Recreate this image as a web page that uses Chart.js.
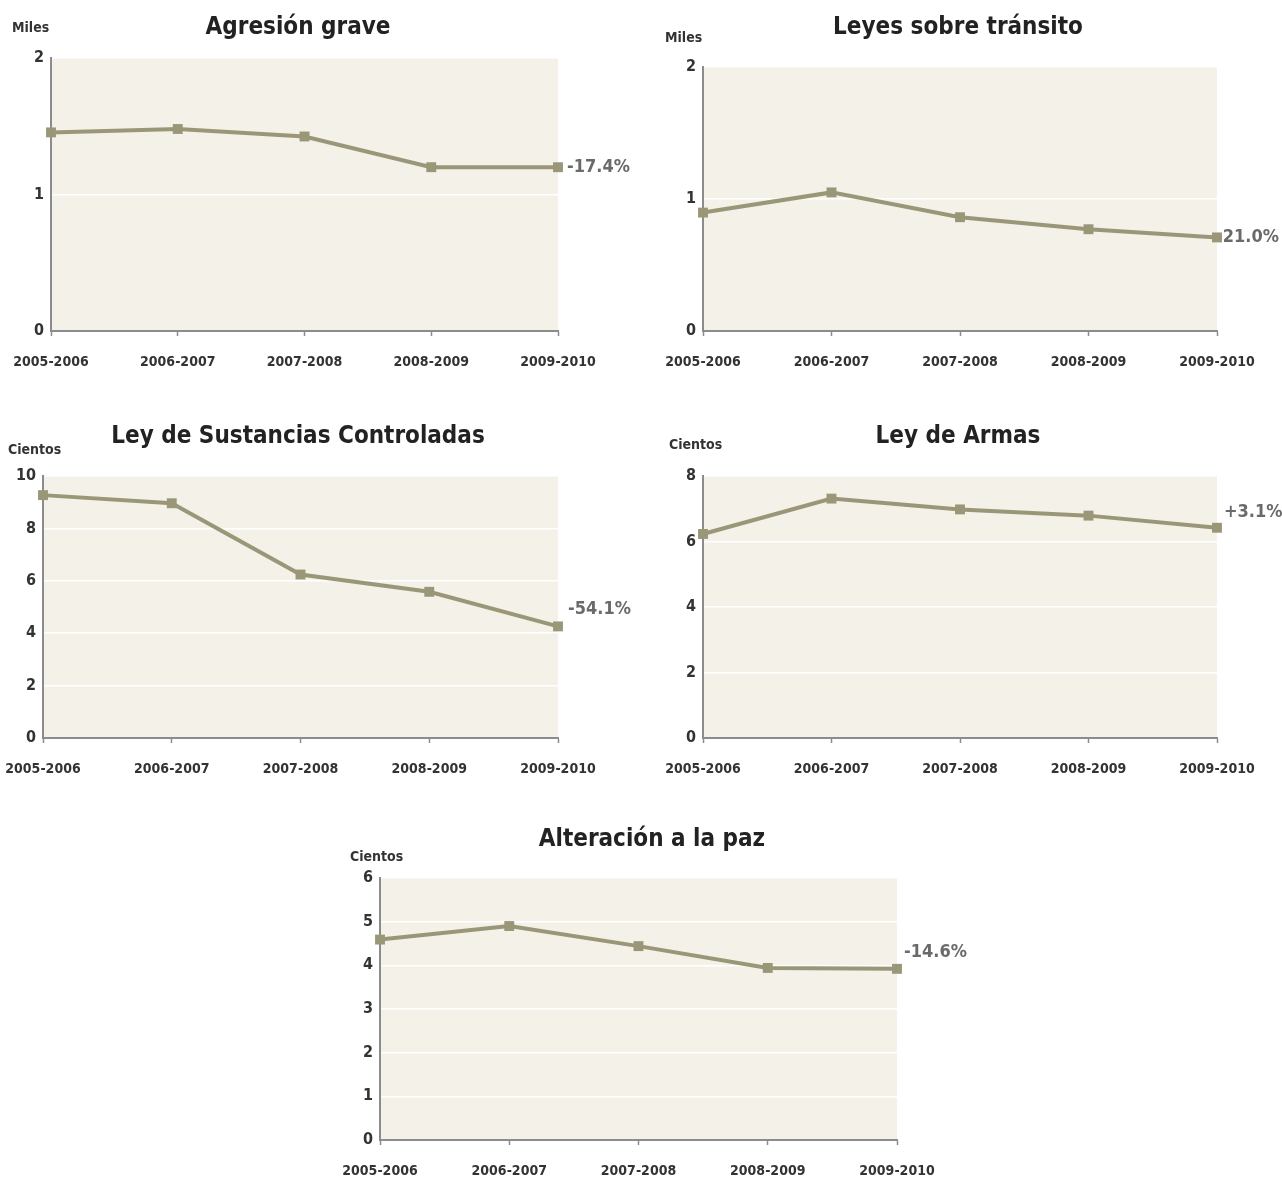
<!DOCTYPE html>
<html>
<head>
<meta charset="utf-8">
<script src="https://cdn.jsdelivr.net/npm/chart.js@4.4.0/dist/chart.umd.min.js"></script>
<style>
  body { margin: 0; background: #fff; width: 1282px; height: 1180px; position: relative; overflow: hidden; }
  canvas { position: absolute; }
</style>
</head>
<body>
<canvas id="c1"></canvas>
<canvas id="c2"></canvas>
<canvas id="c3"></canvas>
<canvas id="c4"></canvas>
<canvas id="c5"></canvas>
<script>
// Datos
const periodos = ['2005-2006', '2006-2007', '2007-2008', '2008-2009', '2009-2010'];
const agresionGrave = [1.455, 1.48, 1.425, 1.2, 1.2];        // miles
const leyesTransito = [0.897, 1.05, 0.862, 0.771, 0.709];    // miles
const sustancias = [9.27, 8.96, 6.24, 5.58, 4.26];           // cientos
const leyArmas = [6.23, 7.31, 6.98, 6.79, 6.42];             // cientos
const alteracionPaz = [4.59, 4.9, 4.44, 3.94, 3.92];         // cientos
const titulos = ['Agresión grave', 'Leyes sobre tránsito', 'Ley de Sustancias Controladas', 'Ley de Armas', 'Alteración a la paz'];
const unidades = ['Miles', 'Miles', 'Cientos', 'Cientos', 'Cientos'];
const cambios = ['-17.4%', '-21.0%', '-54.1%', '+3.1%', '-14.6%'];
const ejeMax = [2, 2, 10, 8, 6];
const ejePaso = [1, 1, 2, 2, 1];

const FONT = "'Liberation Sans Narrow', 'DejaVu Sans Condensed', 'Arial Narrow', 'Liberation Sans', sans-serif";
const LINEA = '#9a9779';
const EJE = '#8c8c8c';

// Posición de cada panel (en px de la página)
const paneles = [
  { id: 'c1', box: [0, 0, 641, 395],   area: [51, 558, 58, 331],   title: [298, 28],  unit: [12, 28],  pct: [9, 0] },
  { id: 'c2', box: [641, 0, 641, 395], area: [703, 1217, 67, 331], title: [958, 28],  unit: [665, 38], pct: [-1, 0] },
  { id: 'c3', box: [0, 400, 641, 395], area: [43, 558, 476, 738], title: [298, 437], unit: [8, 450],  pct: [10, -17] },
  { id: 'c4', box: [641, 400, 641, 395], area: [703, 1217, 476, 738], title: [958, 437], unit: [669, 445], pct: [7, -15] },
  { id: 'c5', box: [300, 810, 700, 370], area: [380, 897, 878, 1140], title: [652, 840], unit: [350, 857], pct: [7, -16] }
];
const series = [agresionGrave, leyesTransito, sustancias, leyArmas, alteracionPaz];

const panelPlugin = {
  id: 'panel',
  beforeDraw(chart, args, opts) {
    const a = chart.chartArea, ctx = chart.ctx;
    ctx.save();
    ctx.fillStyle = '#f4f1e8';
    ctx.fillRect(a.left, a.top, a.right - a.left, a.bottom - a.top);
    ctx.restore();
  },
  beforeDatasetsDraw(chart, args, opts) {
    // etiqueta de cambio porcentual junto al último punto
    const ctx = chart.ctx;
    const meta = chart.getDatasetMeta(0);
    const last = meta.data[meta.data.length - 1];
    ctx.save();
    ctx.font = "bold 18px " + FONT;
    ctx.fillStyle = '#6a6a6a';
    ctx.textAlign = 'left';
    ctx.textBaseline = 'middle';
    ctx.fillText(opts.pctText, last.x + opts.pct[0], last.y + opts.pct[1]);
    ctx.restore();
  },
  afterDraw(chart, args, opts) {
    const ctx = chart.ctx;
    ctx.save();
    ctx.textBaseline = 'middle';
    ctx.fillStyle = '#222';
    ctx.font = "bold 24px " + FONT;
    ctx.textAlign = 'center';
    ctx.fillText(opts.titleText, opts.title[0], opts.title[1]);
    ctx.font = "bold 14px " + FONT;
    ctx.textAlign = 'left';
    ctx.fillStyle = '#333';
    ctx.fillText(opts.unitText, opts.unit[0], opts.unit[1]);
    ctx.restore();
  }
};

paneles.forEach((p, i) => {
  const [bx, by, bw, bh] = p.box;
  const [al, ar, at, ab] = p.area;
  const cv = document.getElementById(p.id);
  cv.width = bw; cv.height = bh;
  cv.style.left = bx + 'px'; cv.style.top = by + 'px';
  cv.style.width = bw + 'px'; cv.style.height = bh + 'px';

  new Chart(cv, {
    type: 'line',
    data: {
      labels: periodos,
      datasets: [{
        data: series[i],
        borderColor: LINEA,
        borderWidth: 4,
        backgroundColor: LINEA,
        pointStyle: 'rect',
        pointRadius: 7,
        pointBorderWidth: 0,
        pointBackgroundColor: LINEA,
        tension: 0
      }]
    },
    options: {
      responsive: false,
      animation: false,
      layout: { padding: { left: 0, top: at - by, right: (bx + bw) - ar, bottom: 0 } },
      plugins: {
        legend: { display: false },
        tooltip: { enabled: false },
        panel: {
          titleText: titulos[i], unitText: unidades[i], pctText: cambios[i],
          title: [p.title[0] - bx, p.title[1] - by],
          unit: [p.unit[0] - bx, p.unit[1] - by],
          pct: p.pct
        }
      },
      scales: {
        x: {
          afterFit: s => {
            s.height = (by + bh) - ab;
            // las etiquetas de los extremos pueden salir del área
            s.paddingLeft = 0;
            s.paddingRight = 0;
          },
          grid: { drawOnChartArea: false, drawTicks: true, tickLength: 5, tickColor: EJE, tickWidth: 1.5 },
          border: { color: EJE, width: 2 },
          ticks: { color: '#333', font: { family: FONT, size: 14, weight: 'bold' }, padding: 18, maxRotation: 0, autoSkip: false }
        },
        y: {
          min: 0, max: ejeMax[i],
          afterFit: s => { s.width = al - bx; },
          grid: { color: '#ffffff', lineWidth: 1.5, drawTicks: false },
          border: { color: EJE, width: 2 },
          ticks: { stepSize: ejePaso[i], color: '#333', font: { family: FONT, size: 16, weight: 'bold' }, padding: 7 }
        }
      }
    },
    plugins: [panelPlugin]
  });
});
</script>
</body>
</html>
